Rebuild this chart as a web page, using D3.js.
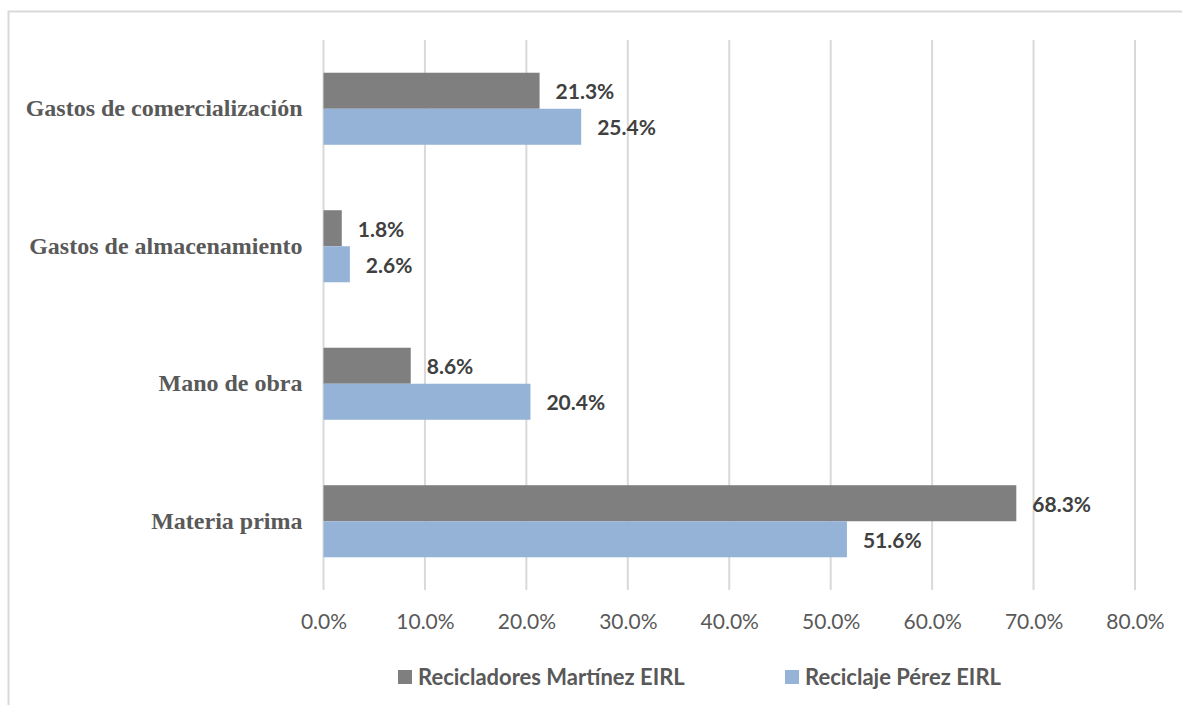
<!DOCTYPE html>
<html>
<head>
<meta charset="utf-8">
<script src="https://cdn.jsdelivr.net/npm/d3@7"></script>
<style>
  body { margin: 0; background: #fff; }
  svg { display: block; }
</style>
</head>
<body>
<svg id="chart" width="1182" height="705"></svg>
<script>
// categories, top to bottom
const categories = ["Gastos de comercialización", "Gastos de almacenamiento", "Mano de obra", "Materia prima"];
const seriesNames = ["Recicladores Martínez EIRL", "Reciclaje Pérez EIRL"];
const martinez = [21.3, 1.8, 8.6, 68.3];
const perez = [25.4, 2.6, 20.4, 51.6];
const xTicks = [0, 10, 20, 30, 40, 50, 60, 70, 80];
const colors = ["#7f7f7f", "#95b3d7"];

const width = 1182, height = 705;
const plot = { left: 323.5, right: 1135, top: 40, bottom: 590 };

const svg = d3.select("#chart");

// outer frame (only top and left edges are visible in the crop)
svg.append("rect")
  .attr("x", 8.5).attr("y", 11.5)
  .attr("width", width + 10).attr("height", height + 10)
  .attr("fill", "none")
  .attr("stroke", "#d9d9d9")
  .attr("stroke-width", 2);

const x = d3.scaleLinear().domain([0, 80]).range([plot.left, plot.right]);
const y = d3.scaleBand().domain(categories).range([plot.top, plot.bottom]).paddingInner(0.476).paddingOuter(0.238);
const ySub = d3.scaleBand().domain([0, 1]).range([0, y.bandwidth()]);

// gridlines
svg.append("g")
  .selectAll("line")
  .data(xTicks)
  .join("line")
  .attr("x1", d => x(d)).attr("x2", d => x(d))
  .attr("y1", plot.top).attr("y2", plot.bottom)
  .attr("stroke", "#d9d9d9")
  .attr("stroke-width", 2);

// x axis labels
const xAxis = d3.axisBottom(x)
  .tickValues(xTicks)
  .tickSize(0)
  .tickPadding(0)
  .tickFormat(d => d.toFixed(1) + "%");

const gx = svg.append("g")
  .attr("transform", "translate(0," + plot.bottom + ")")
  .call(xAxis);
gx.select(".domain").remove();
gx.selectAll("text")
  .attr("y", 32)
  .attr("dy", "0.35em")
  .attr("fill", "#595959")
  .style("font-family", "Lato, 'Open Sans', sans-serif")
  .style("font-size", "21px");

// category labels
const yAxis = d3.axisLeft(y).tickSize(0).tickPadding(21);
const gy = svg.append("g")
  .attr("transform", "translate(" + plot.left + ",0)")
  .call(yAxis);
gy.select(".domain").remove();
gy.selectAll("text")
  .attr("fill", "#595959")
  .style("font-family", "'Liberation Serif', 'Times New Roman', serif")
  .style("font-weight", "bold")
  .style("font-size", "24px");

// bars
const rows = categories.map((c, i) => ({ cat: c, values: [martinez[i], perez[i]] }));

const group = svg.append("g")
  .selectAll("g")
  .data(rows)
  .join("g")
  .attr("transform", d => "translate(0," + y(d.cat) + ")");

group.selectAll("rect")
  .data(d => d.values.map((v, s) => ({ v, s })))
  .join("rect")
  .attr("x", x(0))
  .attr("y", d => ySub(d.s))
  .attr("width", d => x(d.v) - x(0))
  .attr("height", ySub.bandwidth())
  .attr("fill", d => colors[d.s]);

group.selectAll("text")
  .data(d => d.values.map((v, s) => ({ v, s })))
  .join("text")
  .attr("x", d => x(d.v) + 16)
  .attr("y", d => ySub(d.s) + ySub.bandwidth() / 2 + 1)
  .attr("dy", "0.35em")
  .attr("fill", "#404040")
  .style("font-family", "Lato, 'Open Sans', sans-serif")
  .style("font-weight", "bold")
  .style("font-size", "21px")
  .text(d => d.v.toFixed(1) + "%");

// legend
const legendX = [398, 785];
const legend = svg.append("g")
  .selectAll("g")
  .data(seriesNames)
  .join("g")
  .attr("transform", (d, i) => "translate(" + legendX[i] + ",677)");

legend.append("rect")
  .attr("x", 0).attr("y", -7)
  .attr("width", 14).attr("height", 14)
  .attr("fill", (d, i) => colors[i]);

legend.append("text")
  .attr("x", 20)
  .attr("dy", "0.35em")
  .attr("fill", "#595959")
  .style("font-family", "Lato, 'Open Sans', sans-serif")
  .style("font-weight", "bold")
  .style("font-size", "22px")
  .text(d => d);
</script>
</body>
</html>
